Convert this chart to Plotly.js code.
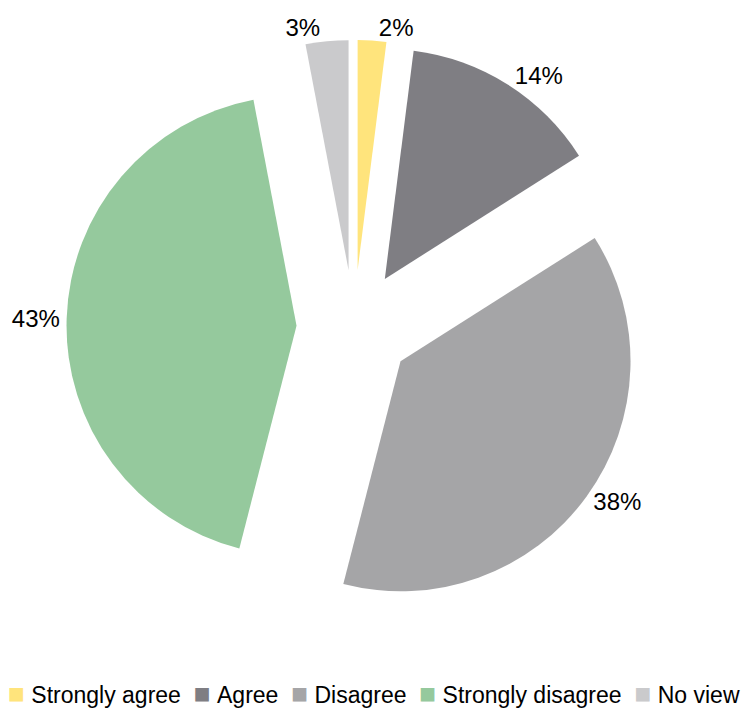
<!DOCTYPE html>
<html>
<head>
<meta charset="utf-8">
<script src="https://cdn.plot.ly/plotly-3.0.1.min.js"></script>
<style>html,body{margin:0;padding:0;background:#fff;}#chart{width:744px;height:709px;}</style>
</head>
<body>
<div id="chart"></div>
<script>
const categories = ["Strongly agree", "Agree", "Disagree", "Strongly disagree", "No view"];
const values = [2, 14, 38, 43, 3];
const colors = ["#FFE47C", "#7F7E83", "#A5A5A7", "#95C99D", "#CACACC"];

const FONT = "Liberation Sans, Arial, sans-serif";

const trace = {
  type: "pie",
  labels: categories,
  values: values,
  sort: false,
  direction: "clockwise",
  rotation: 0,
  pull: 0.25,
  marker: {colors: colors, line: {width: 0}},
  textposition: "outside",
  texttemplate: "%{value}%",
  outsidetextfont: {family: FONT, size: 24, color: "#000"},
  hoverinfo: "label+percent",
  showlegend: false
};

// Legend built from the category and colour arrays as one line of text
const NB = "\u00a0";
const legendText = categories
  .map((c, i) => `<span style="color:${colors[i]};font-size:28px">\u25A0</span>${NB}${c}`)
  .join(NB + NB);

const layout = {
  width: 744,
  height: 709,
  margin: {l: 0, r: 36, t: 40, b: 94},
  paper_bgcolor: "#fff",
  plot_bgcolor: "#fff",
  font: {family: FONT, size: 23, color: "#000"},
  showlegend: false,
  annotations: [{
    xref: "paper", yref: "paper",
    x: 0.528, y: -0.136,
    xanchor: "center", yanchor: "middle",
    text: legendText,
    showarrow: false,
    font: {family: FONT, size: 23, color: "#000"}
  }]
};

Plotly.newPlot("chart", [trace], layout, {displayModeBar: false, staticPlot: true});
</script>
</body>
</html>
